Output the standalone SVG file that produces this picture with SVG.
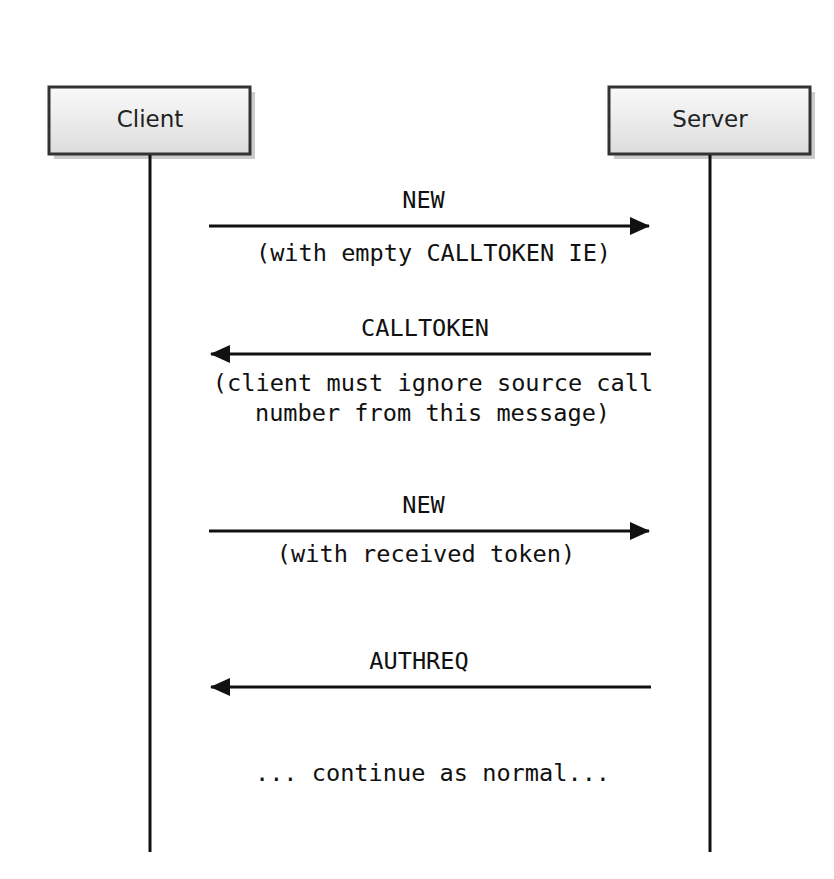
<svg xmlns="http://www.w3.org/2000/svg" width="834" height="879" viewBox="0 0 834 879">
<style>
.box{fill:url(#g);stroke:#333;stroke-width:3}
.sh{fill:#ccc}
.name{font-family:"DejaVu Sans",sans-serif;font-size:23px;fill:#222;text-anchor:middle}
.life{stroke:#111;stroke-width:3;fill:none}
.msg{stroke:#111;stroke-width:3;fill:none}
.lbl{font-family:"DejaVu Sans Mono",monospace;font-size:23.6px;fill:#111;text-anchor:middle}
</style>
<defs>
<linearGradient id="g" x1="0" y1="0" x2="0" y2="1">
<stop offset="0" stop-color="#fafafa"/>
<stop offset="1" stop-color="#dcdcdc"/>
</linearGradient>
<marker id="ah" viewBox="0 0 20 18" refX="19" refY="9" markerWidth="20" markerHeight="18" markerUnits="userSpaceOnUse" orient="auto">
<path d="M0,0 L20,9 L0,18 Z" fill="#111"/>
</marker>
</defs>
<rect width="834" height="879" fill="#fff"/>
<g id="client">
<rect class="sh" x="54" y="92" width="201" height="67"/>
<rect class="box" x="49" y="87" width="201" height="67"/>
<text class="name" x="150" y="127">Client</text>
<line class="life" x1="150" y1="155" x2="150" y2="852"/>
</g>
<g id="server">
<rect class="sh" x="614" y="92" width="201" height="67"/>
<rect class="box" x="609" y="87" width="201" height="67"/>
<text class="name" x="710" y="127">Server</text>
<line class="life" x1="710" y1="155" x2="710" y2="852"/>
</g>
<g id="connectors">
<line class="msg" x1="209" y1="226" x2="649" y2="226" marker-end="url(#ah)"/>
<line class="msg" x1="651" y1="354" x2="211" y2="354" marker-end="url(#ah)"/>
<line class="msg" x1="209" y1="531" x2="649" y2="531" marker-end="url(#ah)"/>
<line class="msg" x1="651" y1="687" x2="211" y2="687" marker-end="url(#ah)"/>
</g>
<g id="labels">
<text class="lbl" x="423.5" y="208">NEW</text>
<text class="lbl" x="433.5" y="261">(with empty CALLTOKEN IE)</text>
<text class="lbl" x="425" y="336">CALLTOKEN</text>
<text class="lbl" x="433" y="391">(client must ignore source call</text>
<text class="lbl" x="432.5" y="421">number from this message)</text>
<text class="lbl" x="423.5" y="513">NEW</text>
<text class="lbl" x="426" y="562">(with received token)</text>
<text class="lbl" x="419" y="669">AUTHREQ</text>
<text class="lbl" x="432.5" y="781">... continue as normal...</text>
</g>
</svg>
